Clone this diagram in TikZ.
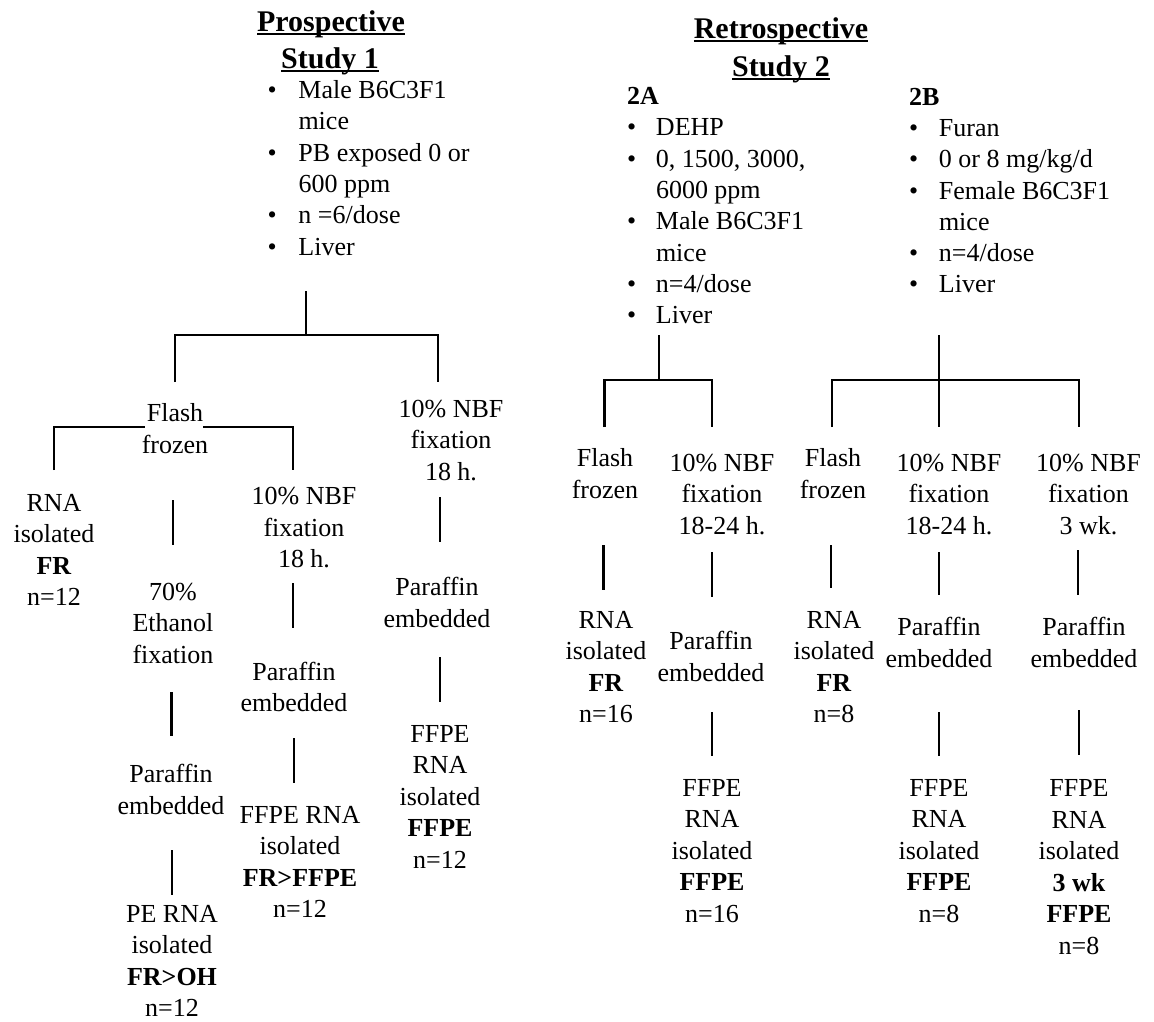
\documentclass[tikz,border=0pt]{standalone}
\usepackage{fontspec}
\setmainfont{Liberation Serif}
\begin{document}
\begin{tikzpicture}[x=1pt,y=-1pt,
  every node/.style={inner sep=0pt, outer sep=0pt},
  lbl/.style={align=center, font=\fontsize{26}{31.5}\selectfont, yshift=-4pt,
    execute at begin node=\strut, execute at end node=\strut},
  ttl/.style={font=\fontsize{30}{36}\selectfont\bfseries, anchor=base},
  lst/.style={anchor=west, font=\fontsize{26}{31.3}\selectfont, yshift=-2pt},
  link/.style={line width=2.8pt},
  uline/.style={line width=2pt}]
\useasboundingbox (0,0) rectangle (1154,1021);
\fill[white] (0,0) rectangle (1154,1021);

% ---------- titles ----------
\node[ttl] (t1a) at (331,31.5) {Prospective};
\node[ttl] (t1b) at (330,68.5) {Study 1};
\node[ttl] (t2a) at (781,38) {Retrospective};
\node[ttl] (t2b) at (781,76.5) {Study 2};
\foreach \t in {t1a,t1b,t2a,t2b}
  \draw[uline] ([yshift=-2.5pt]\t.base west) -- ([yshift=-2.5pt]\t.base east);

% ---------- lists ----------
\node[lst] (l1) at (267.5,168.5) {\begin{tabular}{@{}p{31pt}@{}l@{}}
\textbullet & Male B6C3F1\\ & mice\\ \textbullet & PB exposed 0 or\\ & 600 ppm\\
\textbullet & n =6/dose\\ \textbullet & Liver\end{tabular}};
\node[lst] (l2a) at (627,205.9) {\begin{tabular}{@{}p{29pt}@{}l@{}}
\multicolumn{2}{@{}l@{}}{\textbf{2A}}\\
\textbullet & DEHP\\ \textbullet & 0, 1500, 3000,\\ & 6000 ppm\\
\textbullet & Male B6C3F1\\ & mice\\ \textbullet & n=4/dose\\ \textbullet & Liver\end{tabular}};
\node[lst] (l2b) at (909,190.8) {\begin{tabular}{@{}p{30pt}@{}l@{}}
\multicolumn{2}{@{}l@{}}{\textbf{2B}}\\
\textbullet & Furan\\ \textbullet & 0 or 8 mg/kg/d\\ \textbullet & Female B6C3F1\\ & mice\\
\textbullet & n=4/dose\\ \textbullet & Liver\end{tabular}};

% ---------- study 1 nodes ----------
\node[lbl] (ff1) at (175,429) {Flash\\frozen};
\node[lbl] (nbf1) at (451,441) {10\% NBF\\fixation\\18 h.};
\node[lbl] (par1) at (437,603) {Paraffin\\embedded};
\node[lbl] (ffpe1) at (440,797.5) {FFPE\\RNA\\isolated\\\textbf{FFPE}\\n=12};
\node[lbl] (rna1) at (54,550.5) {RNA\\isolated\\\textbf{FR}\\n=12};
\node[lbl] (eth1) at (173,624) {70\%\\Ethanol\\fixation};
\node[lbl] (par1b) at (171,790) {Paraffin\\embedded};
\node[lbl, execute at end node={}] (pe1) at (172,961.5) {PE RNA\\isolated\\\textbf{FR>OH}\\n=12};
\node[lbl] (nbf1b) at (304,528.5) {10\% NBF\\fixation\\18 h.};
\node[lbl] (par1c) at (294,687.5) {Paraffin\\embedded};
\node[lbl] (ffpe1b) at (300,862.5) {FFPE RNA\\isolated\\\textbf{FR>FFPE}\\n=12};

% ---------- study 2 nodes ----------
\node[lbl] (ff2a) at (605,474) {Flash\\frozen};
\node[lbl] (nbf2a) at (722,495) {10\% NBF\\fixation\\18-24 h.};
\node[lbl] (rna2a) at (606,667.5) {RNA\\isolated\\\textbf{FR}\\n=16};
\node[lbl] (par2a) at (711,657) {Paraffin\\embedded};
\node[lbl] (ffpe2a) at (712,851.5) {FFPE\\RNA\\isolated\\\textbf{FFPE}\\n=16};
\node[lbl] (ff2b) at (833,474) {Flash\\frozen};
\node[lbl] (rna2b) at (834,667.5) {RNA\\isolated\\\textbf{FR}\\n=8};
\node[lbl] (nbf2b) at (949,495) {10\% NBF\\fixation\\18-24 h.};
\node[lbl] (par2b) at (939,643) {Paraffin\\embedded};
\node[lbl] (ffpe2b) at (939,851.5) {FFPE\\RNA\\isolated\\\textbf{FFPE}\\n=8};
\node[lbl] (nbf2c) at (1088.5,495) {10\% NBF\\fixation\\3 wk.};
\node[lbl] (par2c) at (1084,643) {Paraffin\\embedded};
\node[lbl] (ffpe2c) at (1079,867.5) {FFPE\\RNA\\isolated\\\textbf{3 wk}\\\textbf{FFPE}\\n=8};

% ---------- study 1 connectors ----------
\coordinate (s1top) at (306,291);
\coordinate (s1j) at (306,335);
\coordinate (s1l) at (175,382);
\coordinate (s1r) at (438,382);
\draw[link] (s1top) -- (s1j);
\draw[link] (s1l) |- (s1j) -| (s1r);
\coordinate (ffl) at (54,470);
\coordinate (ffr) at (293,470);
\draw[link] (ffl) |- (145,427);
\draw[link] (203,427) -| (ffr);
\foreach \x/\a/\b in {173/500/545, 171.5/692/736, 172/850/895,
  293/583/628, 294/738/783, 440/497/542, 440/657/702}
  \draw[link] (\x,\a) -- (\x,\b);

% ---------- study 2 connectors ----------
\coordinate (s2atop) at (659,335);
\coordinate (s2aj) at (659,380);
\draw[link] (s2atop) -- (s2aj);
\draw[link] (604.6,427) |- (s2aj) -| (712,427);
\coordinate (s2btop) at (939,335);
\coordinate (s2bbot) at (939,427);
\draw[link] (s2btop) -- (s2bbot);
\draw[link] (832,427) |- (939,380) -| (1079,427);
\foreach \x/\a/\b in {603.5/545/590, 712/552/597, 712/712/756,
  831/545/588, 939/552/595, 939/712/756, 1078/550/595, 1079/710/755}
  \draw[link] (\x,\a) -- (\x,\b);
\end{tikzpicture}
\end{document}
